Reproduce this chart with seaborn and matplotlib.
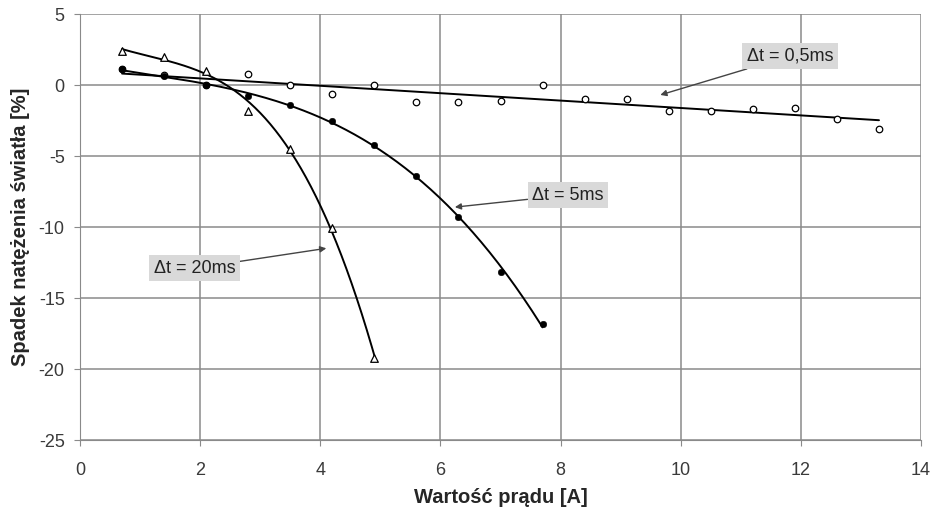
import numpy as np
import pandas as pd
import seaborn as sns
from matplotlib import pyplot as plt

# current values [A]
x_all = [0.7, 1.4, 2.1, 2.8, 3.5, 4.2, 4.9, 5.6, 6.3, 7.0, 7.7, 8.4, 9.1, 9.8,
         10.5, 11.2, 11.9, 12.6, 13.3]
# dt = 0.5 ms (open circles)
y_05 = [1.1, 0.7, 0.0, 0.8, 0.0, -0.6, 0.0, -1.2, -1.2, -1.1, 0.0, -1.0, -1.0,
        -1.8, -1.8, -1.7, -1.6, -2.4, -3.1]
# dt = 5 ms (filled circles)
x_5 = [0.7, 1.4, 2.1, 2.8, 3.5, 4.2, 4.9, 5.6, 6.3, 7.0, 7.7]
y_5 = [1.1, 0.6, 0.0, -0.8, -1.4, -2.5, -4.2, -6.4, -9.3, -13.2, -16.8]
# dt = 20 ms (open triangles)
x_20 = [0.7, 1.4, 2.1, 2.8, 3.5, 4.2, 4.9]
y_20 = [2.4, 2.0, 1.0, -1.8, -4.5, -10.1, -19.2]

sns.set_style("white")
plt.rcParams['font.family'] = ['Liberation Sans', 'DejaVu Sans']
plt.rcParams['axes.unicode_minus'] = False

fig = plt.figure(figsize=(9.38, 5.17), dpi=100)
ax = fig.add_axes([0.0853, 0.1489, 0.8966, 0.824])


def trend(xs, ys, deg, n=200):
    c = np.polyfit(xs, ys, deg)
    xx = np.linspace(min(xs), max(xs), n)
    return pd.DataFrame({"x": xx, "y": np.polyval(c, xx)})


sns.lineplot(data=trend(x_all, y_05, 1), x="x", y="y", ax=ax, color="black", lw=1.4)
sns.lineplot(data=trend(x_5, y_5, 3), x="x", y="y", ax=ax, color="black", lw=1.4)
sns.lineplot(data=trend(x_20, y_20, 3), x="x", y="y", ax=ax, color="black", lw=1.4)

sns.scatterplot(x=x_all, y=y_05, ax=ax, marker="o", s=22, facecolor="white",
                edgecolor="black", linewidth=0.9, zorder=3)
sns.scatterplot(x=x_5, y=y_5, ax=ax, marker="o", s=22, color="black",
                edgecolor="black", zorder=3)
sns.scatterplot(x=x_20, y=y_20, ax=ax, marker="^", s=30, facecolor="white",
                edgecolor="black", linewidth=0.9, zorder=3)

ax.set_xlim(0, 14)
ax.set_ylim(-25, 5)
ax.set_xticks(range(0, 15, 2))
ax.set_yticks(range(-25, 6, 5))
ax.grid(True, color="#8a8a8a", lw=1.1)
for s in ["top", "right"]:
    ax.spines[s].set_visible(False)
for s in ["left", "bottom"]:
    ax.spines[s].set_color("#8a8a8a")
ax.tick_params(axis="both", length=4, color="#8a8a8a", labelsize=13, labelcolor="#3a3a3a",
               direction="out", left=True, bottom=True)
ax.tick_params(axis="x", pad=12)
ax.tick_params(axis="y", pad=7)

ax.set_xlabel("Wartość prądu [A]", fontsize=14.5, fontweight="bold", labelpad=6)
ax.set_ylabel("Spadek natężenia światła [%]", fontsize=14.5, fontweight="bold", labelpad=6)

box = dict(boxstyle="square,pad=0.25", fc="#d9d9d9", ec="none")
arrow = dict(arrowstyle="-|>", color="#444444", lw=1.0, mutation_scale=9, shrinkA=0, shrinkB=0)
ax.annotate("Δt = 0,5ms", xy=(9.66, -0.7), xytext=(11.82, 2.05), fontsize=13,
            ha="center", va="center", bbox=box, arrowprops=arrow, color="#222222")
ax.annotate("Δt = 5ms", xy=(6.24, -8.6), xytext=(8.12, -7.75), fontsize=13,
            ha="center", va="center", bbox=box, arrowprops=arrow, color="#222222")
ax.annotate("Δt = 20ms", xy=(4.1, -11.5), xytext=(1.91, -12.9), fontsize=13,
            ha="center", va="center", bbox=box, arrowprops=arrow, color="#222222")

fig.savefig("out.png", dpi=100)
